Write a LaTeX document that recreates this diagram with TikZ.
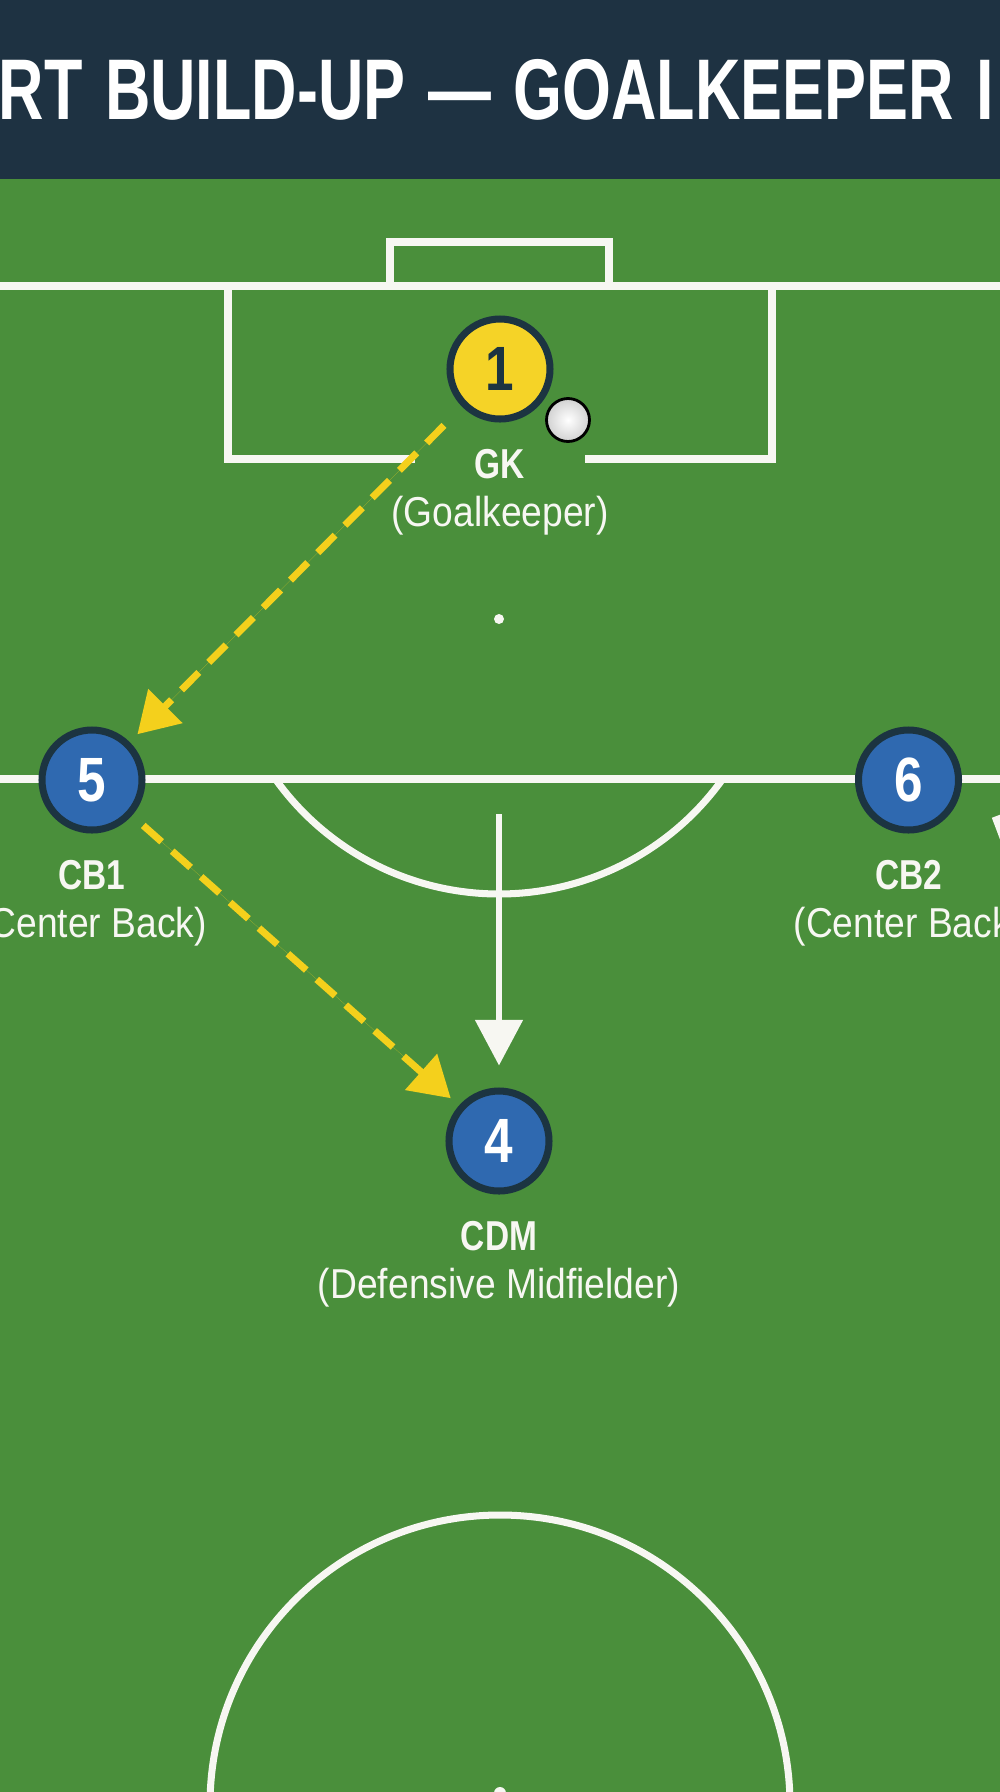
\documentclass[tikz,border=0pt]{standalone}
\usepackage{fontspec}
\setmainfont{Liberation Sans}
\usetikzlibrary{positioning,arrows.meta}

\definecolor{pitch}{HTML}{4A8F3B}
\definecolor{navy}{HTML}{1E3242}
\definecolor{keeper}{HTML}{F5D327}
\definecolor{outfield}{HTML}{2F69B0}
\definecolor{rim}{HTML}{1C3441}
\definecolor{pass}{HTML}{F4D01C}
\definecolor{chalk}{HTML}{F7F7F2}
\newcommand{\narrow}[2]{\scalebox{#1}[1]{#2}}

\begin{document}
\begin{tikzpicture}[node distance=0.27cm,
	player/.style={circle,draw=rim,line width=2pt,minimum size=1cm,inner sep=0pt,text=white,font=\fontsize{17.8}{18}\selectfont\bfseries},
	keeper node/.style={player,fill=keeper,text=rim},
	back node/.style={player,fill=outfield},
	role/.style={align=center,inner sep=0pt,outer sep=0pt,text=chalk,font=\fontsize{11.9}{13.6}\selectfont},
	marking/.style={draw=chalk,line width=2pt},
	pass/.style={-{Triangle[length=11.3pt,width=13.3pt]},draw=pass,fill=pass,line width=2pt,dash pattern=on 7pt off 4pt},
	run/.style={draw=chalk,line width=1.7pt}]
	
	\useasboundingbox (0,0) rectangle (10,-17.92);
	\clip (0,0) rectangle (10,-17.92);
	\fill[pitch] (0,0) rectangle (10,-17.92);
	\fill[navy] (0,0) rectangle (10,-1.79);
	\node[anchor=base west,inner sep=0pt,text=white,font=\fontsize{24.5}{26}\selectfont\bfseries] (title) at (-0.02,-1.19)
	{\narrow{0.73}{\spaceskip=0.36em RT BUILD-UP — GOALKEEPER I}};
	
	% pitch lines
	\draw[marking] (0,-2.86) -- (10,-2.86);
	\draw[marking] (3.90,-2.86) |- (6.09,-2.42) -- (6.09,-2.86);
	\draw[marking] (4.15,-4.59) -| (2.28,-2.86);
	\draw[marking] (5.85,-4.59) -| (7.72,-2.86);
	\draw[marking] (0,-7.79) -- (10,-7.79);
	\fill[chalk] (4.99,-6.19) circle (0.05);
	\draw[marking] (4.99,-6.19) ++(-35.6:2.75) arc[start angle=-35.6,end angle=-144.4,radius=2.75];
	\draw[marking] (5.0,-18.05) circle (2.90);
	\fill[chalk] (5.0,-17.93) circle (0.06);
	
	% players
	\node[keeper node] (gk) at (5.00,-3.69) {\narrow{0.82}{1}};
	\node[back node] (cb1) at (0.92,-7.80) {\narrow{0.82}{5}};
	\node[back node] (cb2) at (9.085,-7.80) {\narrow{0.82}{6}};
	\node[back node] (cdm) at (4.99,-11.41) {\narrow{0.82}{4}};
	\node[circle,draw=black,line width=0.8pt,minimum size=0.43cm,inner sep=0pt,inner color=white,outer color=black!18] (ball) at (5.68,-4.20) {};
	
	\node[role,below=of gk] (gk label) {\textbf{\narrow{0.8}{GK}}\\\narrow{0.89}{(Goalkeeper)}};
	\node[role,below=of cb1] (cb1 label) {\textbf{\narrow{0.8}{CB1}}\\\narrow{0.89}{(Center Back)}};
	\node[role,below=of cb2] (cb2 label) {\textbf{\narrow{0.8}{CB2}}\\\narrow{0.89}{(Center Back)}};
	\node[role,below=of cdm] (cdm label) {\textbf{\narrow{0.8}{CDM}}\\\narrow{0.89}{(Defensive Midfielder)}};
	
	% passes and runs
	\coordinate (drop) at (4.99,-8.14);
	\coordinate (wide) at (11.82,-9.04);
	\draw[pass,shorten <=0.26cm,shorten >=0.11cm] (gk) -- (cb1);
	\draw[pass,shorten <=0.15cm,shorten >=0.11cm] (cb1) -- (cdm);
	\draw[run,-{Triangle[length=13pt,width=13.3pt]},fill=chalk,shorten >=0.22cm] (drop) -- (cdm);
	\draw[run,-{Straight Barb[length=6pt,width=12pt]},shorten >=0.38cm] (wide) -- (cb2);
\end{tikzpicture}
\end{document}
